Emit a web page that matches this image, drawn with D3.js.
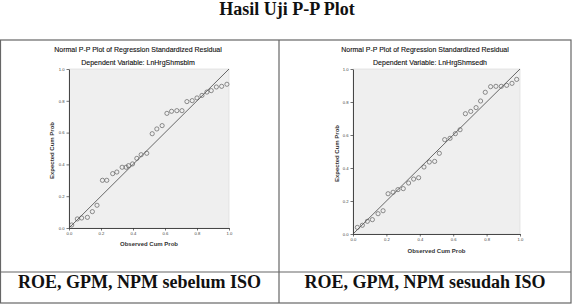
<!DOCTYPE html>
<html>
<head>
<meta charset="utf-8">
<script src="https://cdn.jsdelivr.net/npm/d3@7"></script>
<style>
  html, body { margin: 0; padding: 0; background: #fff; }
  svg { display: block; }
</style>
</head>
<body>
<svg id="chart" width="573" height="306"></svg>
<script>
// ---- data ----
const pageTitle = "Hasil Uji P-P Plot";
const chartTitle = "Normal P-P Plot of Regression Standardized Residual";
const dependentLabels = ["Dependent Variable: LnHrgShmsblm", "Dependent Variable: LnHrgShmsedh"];
const rowLabels = ["ROE, GPM, NPM sebelum ISO", "ROE, GPM, NPM sesudah ISO"];
const xAxisTitle = "Observed Cum Prob";
const yAxisTitle = "Expected Cum Prob";
const tickValues = [0.0, 0.2, 0.4, 0.6, 0.8, 1.0];

const leftObserved = [0.017,0.052,0.079,0.115,0.146,0.175,0.209,0.236,0.273,0.299,0.332,0.357,0.372,0.397,0.424,0.451,0.486,0.520,0.549,0.582,0.612,0.641,0.674,0.706,0.737,0.770,0.800,0.831,0.862,0.889,0.921,0.954,0.987];
const leftExpected = [0.019,0.057,0.063,0.067,0.103,0.143,0.300,0.300,0.342,0.352,0.382,0.382,0.392,0.403,0.438,0.461,0.470,0.593,0.623,0.644,0.721,0.734,0.738,0.738,0.795,0.801,0.818,0.834,0.855,0.864,0.887,0.891,0.904];

const rightObserved = [0.026,0.056,0.086,0.116,0.150,0.180,0.210,0.240,0.269,0.301,0.333,0.363,0.393,0.425,0.457,0.489,0.517,0.549,0.581,0.613,0.641,0.673,0.705,0.737,0.764,0.792,0.824,0.856,0.888,0.920,0.952,0.980];
const rightExpected = [0.040,0.053,0.077,0.087,0.123,0.141,0.244,0.253,0.269,0.275,0.309,0.333,0.341,0.406,0.436,0.440,0.489,0.572,0.580,0.608,0.632,0.729,0.743,0.766,0.806,0.859,0.893,0.895,0.895,0.901,0.913,0.937];

const panels = [
  { observed: leftObserved, expected: leftExpected, sub: dependentLabels[0], label: rowLabels[0] },
  { observed: rightObserved, expected: rightExpected, sub: dependentLabels[1], label: rowLabels[1] }
];

// ---- layout ----
const svg = d3.select("#chart");
const layout = [
  { cellX: 0, cellW: 279, px: 69, py: 69, pw: 160, ph: 159, titleX: 138, subX: 138, titleY: 52, subY: 65, xlabY: 246, ylabX: 54 },
  { cellX: 279, cellW: 292, px: 353, py: 69, pw: 167, ph: 165, titleX: 425, subX: 430, titleY: 52, subY: 65, xlabY: 253, ylabX: 339 }
];
const tableTop = 40, rowLine = 272, tableBottom = 303, tableLeft = 0.5, tableRight = 571;

// page title
svg.append("text")
  .attr("x", 287).attr("y", 15)
  .attr("text-anchor", "middle")
  .attr("font-family", "'Liberation Serif', 'Times New Roman', serif")
  .attr("font-weight", "bold").attr("font-size", 18)
  .attr("fill", "#111")
  .text(pageTitle);

// table borders
const tb = svg.append("g").attr("stroke", "#666").attr("stroke-width", 1.2).attr("fill", "none");
tb.append("rect").attr("x", tableLeft).attr("y", tableTop).attr("width", tableRight - tableLeft).attr("height", tableBottom - tableTop);
tb.append("line").attr("x1", 279).attr("x2", 279).attr("y1", tableTop).attr("y2", tableBottom);
tb.append("line").attr("x1", tableLeft).attr("x2", tableRight).attr("y1", rowLine).attr("y2", rowLine);

panels.forEach((p, i) => {
  const L = layout[i];
  const x = d3.scaleLinear().domain([0, 1]).range([L.px, L.px + L.pw]);
  const y = d3.scaleLinear().domain([0, 1]).range([L.py + L.ph, L.py]);
  const cx = L.cellX + L.cellW / 2;
  const g = svg.append("g");

  g.append("text").attr("x", L.titleX).attr("y", L.titleY)
    .attr("text-anchor", "middle").attr("font-family", "'Liberation Sans', Arial, sans-serif")
    .attr("font-size", 7).attr("fill", "#111").attr("stroke", "#111").attr("stroke-width", 0.12)
    .text(chartTitle);
  g.append("text").attr("x", L.subX).attr("y", L.subY)
    .attr("text-anchor", "middle").attr("font-family", "'Liberation Sans', Arial, sans-serif")
    .attr("font-size", 7).attr("fill", "#111").attr("stroke", "#111").attr("stroke-width", 0.12)
    .text(p.sub);

  // plot background
  g.append("rect").attr("x", L.px).attr("y", L.py).attr("width", L.pw).attr("height", L.ph)
    .attr("fill", "#efefef").attr("stroke", "#d8d8d8").attr("stroke-width", 0.6);

  // axes
  const ax = g.append("g").attr("transform", `translate(0,${L.py + L.ph})`)
    .call(d3.axisBottom(x).tickValues(tickValues).tickFormat(d3.format(".1f")).tickSize(2.5).tickSizeOuter(0).tickPadding(2));
  const ay = g.append("g").attr("transform", `translate(${L.px},0)`)
    .call(d3.axisLeft(y).tickValues(tickValues).tickFormat(d3.format(".1f")).tickSize(2.5).tickSizeOuter(0).tickPadding(2));
  [ax, ay].forEach(a => {
    a.selectAll("path").attr("stroke", "#333").attr("stroke-width", 0.9);
    a.selectAll("line").attr("stroke", "#333").attr("stroke-width", 0.7);
    a.selectAll("text").attr("font-size", 4.2).attr("fill", "#444")
      .attr("font-family", "'Liberation Sans', Arial, sans-serif");
  });

  // diagonal reference line
  g.append("line").attr("x1", x(0)).attr("y1", y(0)).attr("x2", x(1)).attr("y2", y(1))
    .attr("stroke", "#444").attr("stroke-width", 0.8);

  // points
  g.selectAll("circle.pt").data(p.observed.map((o, k) => [o, p.expected[k]]))
    .enter().append("circle").attr("class", "pt")
    .attr("cx", d => x(d[0])).attr("cy", d => y(d[1])).attr("r", 2.1)
    .attr("fill", "none").attr("stroke", "#555").attr("stroke-width", 0.65);

  // axis titles
  g.append("text").attr("x", L.px + L.pw / 2).attr("y", L.xlabY)
    .attr("text-anchor", "middle").attr("font-family", "'Liberation Sans', Arial, sans-serif")
    .attr("font-weight", "bold").attr("font-size", 6).attr("fill", "#333").text(xAxisTitle);
  g.append("text").attr("transform", `translate(${L.ylabX},${L.py + L.ph / 2 + 2}) rotate(-90)`)
    .attr("text-anchor", "middle").attr("font-family", "'Liberation Sans', Arial, sans-serif")
    .attr("font-weight", "bold").attr("font-size", 6).attr("fill", "#333").text(yAxisTitle);

  // row label
  svg.append("text").attr("x", cx).attr("y", 288)
    .attr("text-anchor", "middle")
    .attr("font-family", "'Liberation Serif', 'Times New Roman', serif")
    .attr("font-weight", "bold").attr("font-size", 18).attr("fill", "#111")
    .text(p.label);
});
</script>
</body>
</html>
